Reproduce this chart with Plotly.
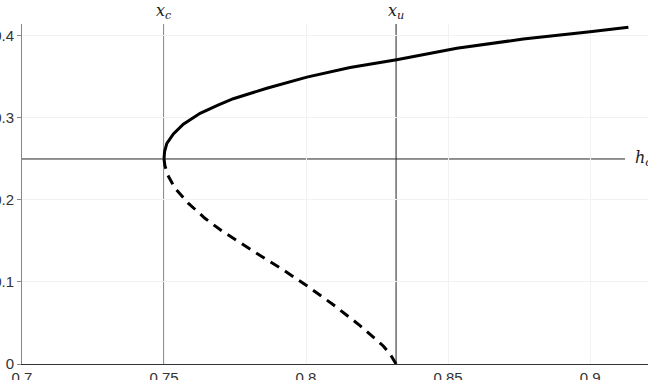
import plotly.graph_objects as go

# Critical values
x_c = 0.75
x_u = 0.8317
h_c = 0.25

# Stable (upper) branch
upper_x = [0.75, 0.75005, 0.7502, 0.7510, 0.7533, 0.7568, 0.7627, 0.7690, 0.7744,
           0.7862, 0.8003, 0.8155, 0.8319, 0.8531, 0.8765, 0.9000, 0.9135]
upper_y = [0.25, 0.254, 0.259, 0.269, 0.2805, 0.2925, 0.3057, 0.3158, 0.3235,
           0.3362, 0.3498, 0.3615, 0.3711, 0.3850, 0.3963, 0.4052, 0.4106]

# Unstable (lower) branch
lower_x = [0.75, 0.7503, 0.7513, 0.7539, 0.7586, 0.7644, 0.7703, 0.7774, 0.7844,
           0.7910, 0.8003, 0.8096, 0.8190, 0.8272, 0.8297, 0.8317]
lower_y = [0.25, 0.2420, 0.2305, 0.2142, 0.1959, 0.1777, 0.1624, 0.1461, 0.1311,
           0.1169, 0.0955, 0.0723, 0.0469, 0.0220, 0.0115, 0.0]

x_ticks = [0.7, 0.75, 0.8, 0.85, 0.9]
x_tick_text = ["0.7", "0.75", "0.8", "0.85", "0.9"]
y_ticks = [0, 0.1, 0.2, 0.3, 0.4]
y_tick_text = ["0", "0.1", "0.2", "0.3", "0.4"]

x_range = [0.7, 0.9204]
y_range = [0, 0.4146]
h_line_end = 0.9123

fig = go.Figure()
fig.add_trace(go.Scatter(x=upper_x, y=upper_y, mode="lines",
                         line=dict(color="black", width=3),
                         hoverinfo="skip", showlegend=False))
fig.add_trace(go.Scatter(x=lower_x, y=lower_y, mode="lines",
                         line=dict(color="black", width=3, dash="10px,7px"),
                         hoverinfo="skip", showlegend=False))

line_col = "#222222"
for xv in [x_c, x_u]:
    fig.add_shape(type="line", xref="x", yref="y", x0=xv, x1=xv, y0=y_range[0], y1=y_range[1],
                  line=dict(color=line_col, width=1), layer="below")
fig.add_shape(type="line", xref="x", yref="y", x0=x_range[0], x1=h_line_end, y0=h_c, y1=h_c,
              line=dict(color=line_col, width=1), layer="below")

label_font = dict(family="DejaVu Serif", size=16, color="#222222")
fig.add_annotation(x=x_c, y=y_range[1], xref="x", yref="y", text="<i>x</i><sub><i>c</i></sub>",
                   showarrow=False, yanchor="bottom", yshift=0, font=label_font)
fig.add_annotation(x=x_u, y=y_range[1], xref="x", yref="y", text="<i>x</i><sub><i>u</i></sub>",
                   showarrow=False, yanchor="bottom", yshift=0, font=label_font)
fig.add_annotation(x=h_line_end, y=h_c, xref="x", yref="y", text="<i>h</i><sub><i>c</i></sub>",
                   showarrow=False, xanchor="left", xshift=8, font=label_font)

tick_font = dict(family="Liberation Sans", size=15, color="#333333")
fig.update_xaxes(range=x_range, tickvals=x_ticks, ticktext=x_tick_text, showgrid=True,
                 gridcolor="#f2f2f2", gridwidth=1, showline=True, linecolor="#333333", linewidth=1,
                 ticks="", tickfont=tick_font, zeroline=False, automargin=False, ticklabelstandoff=0)
fig.update_yaxes(range=y_range, tickvals=y_ticks, ticktext=y_tick_text, showgrid=True,
                 gridcolor="#f2f2f2", gridwidth=1, showline=True, linecolor="#888888", linewidth=1,
                 ticks="outside", ticklen=4, tickcolor="#888888", tickfont=tick_font,
                 zeroline=False, automargin=False, ticklabelstandoff=0)

fig.update_layout(width=648, height=380, margin=dict(l=22, r=0, t=24, b=16),
                  plot_bgcolor="white", paper_bgcolor="white")

fig.write_html("out.html")
